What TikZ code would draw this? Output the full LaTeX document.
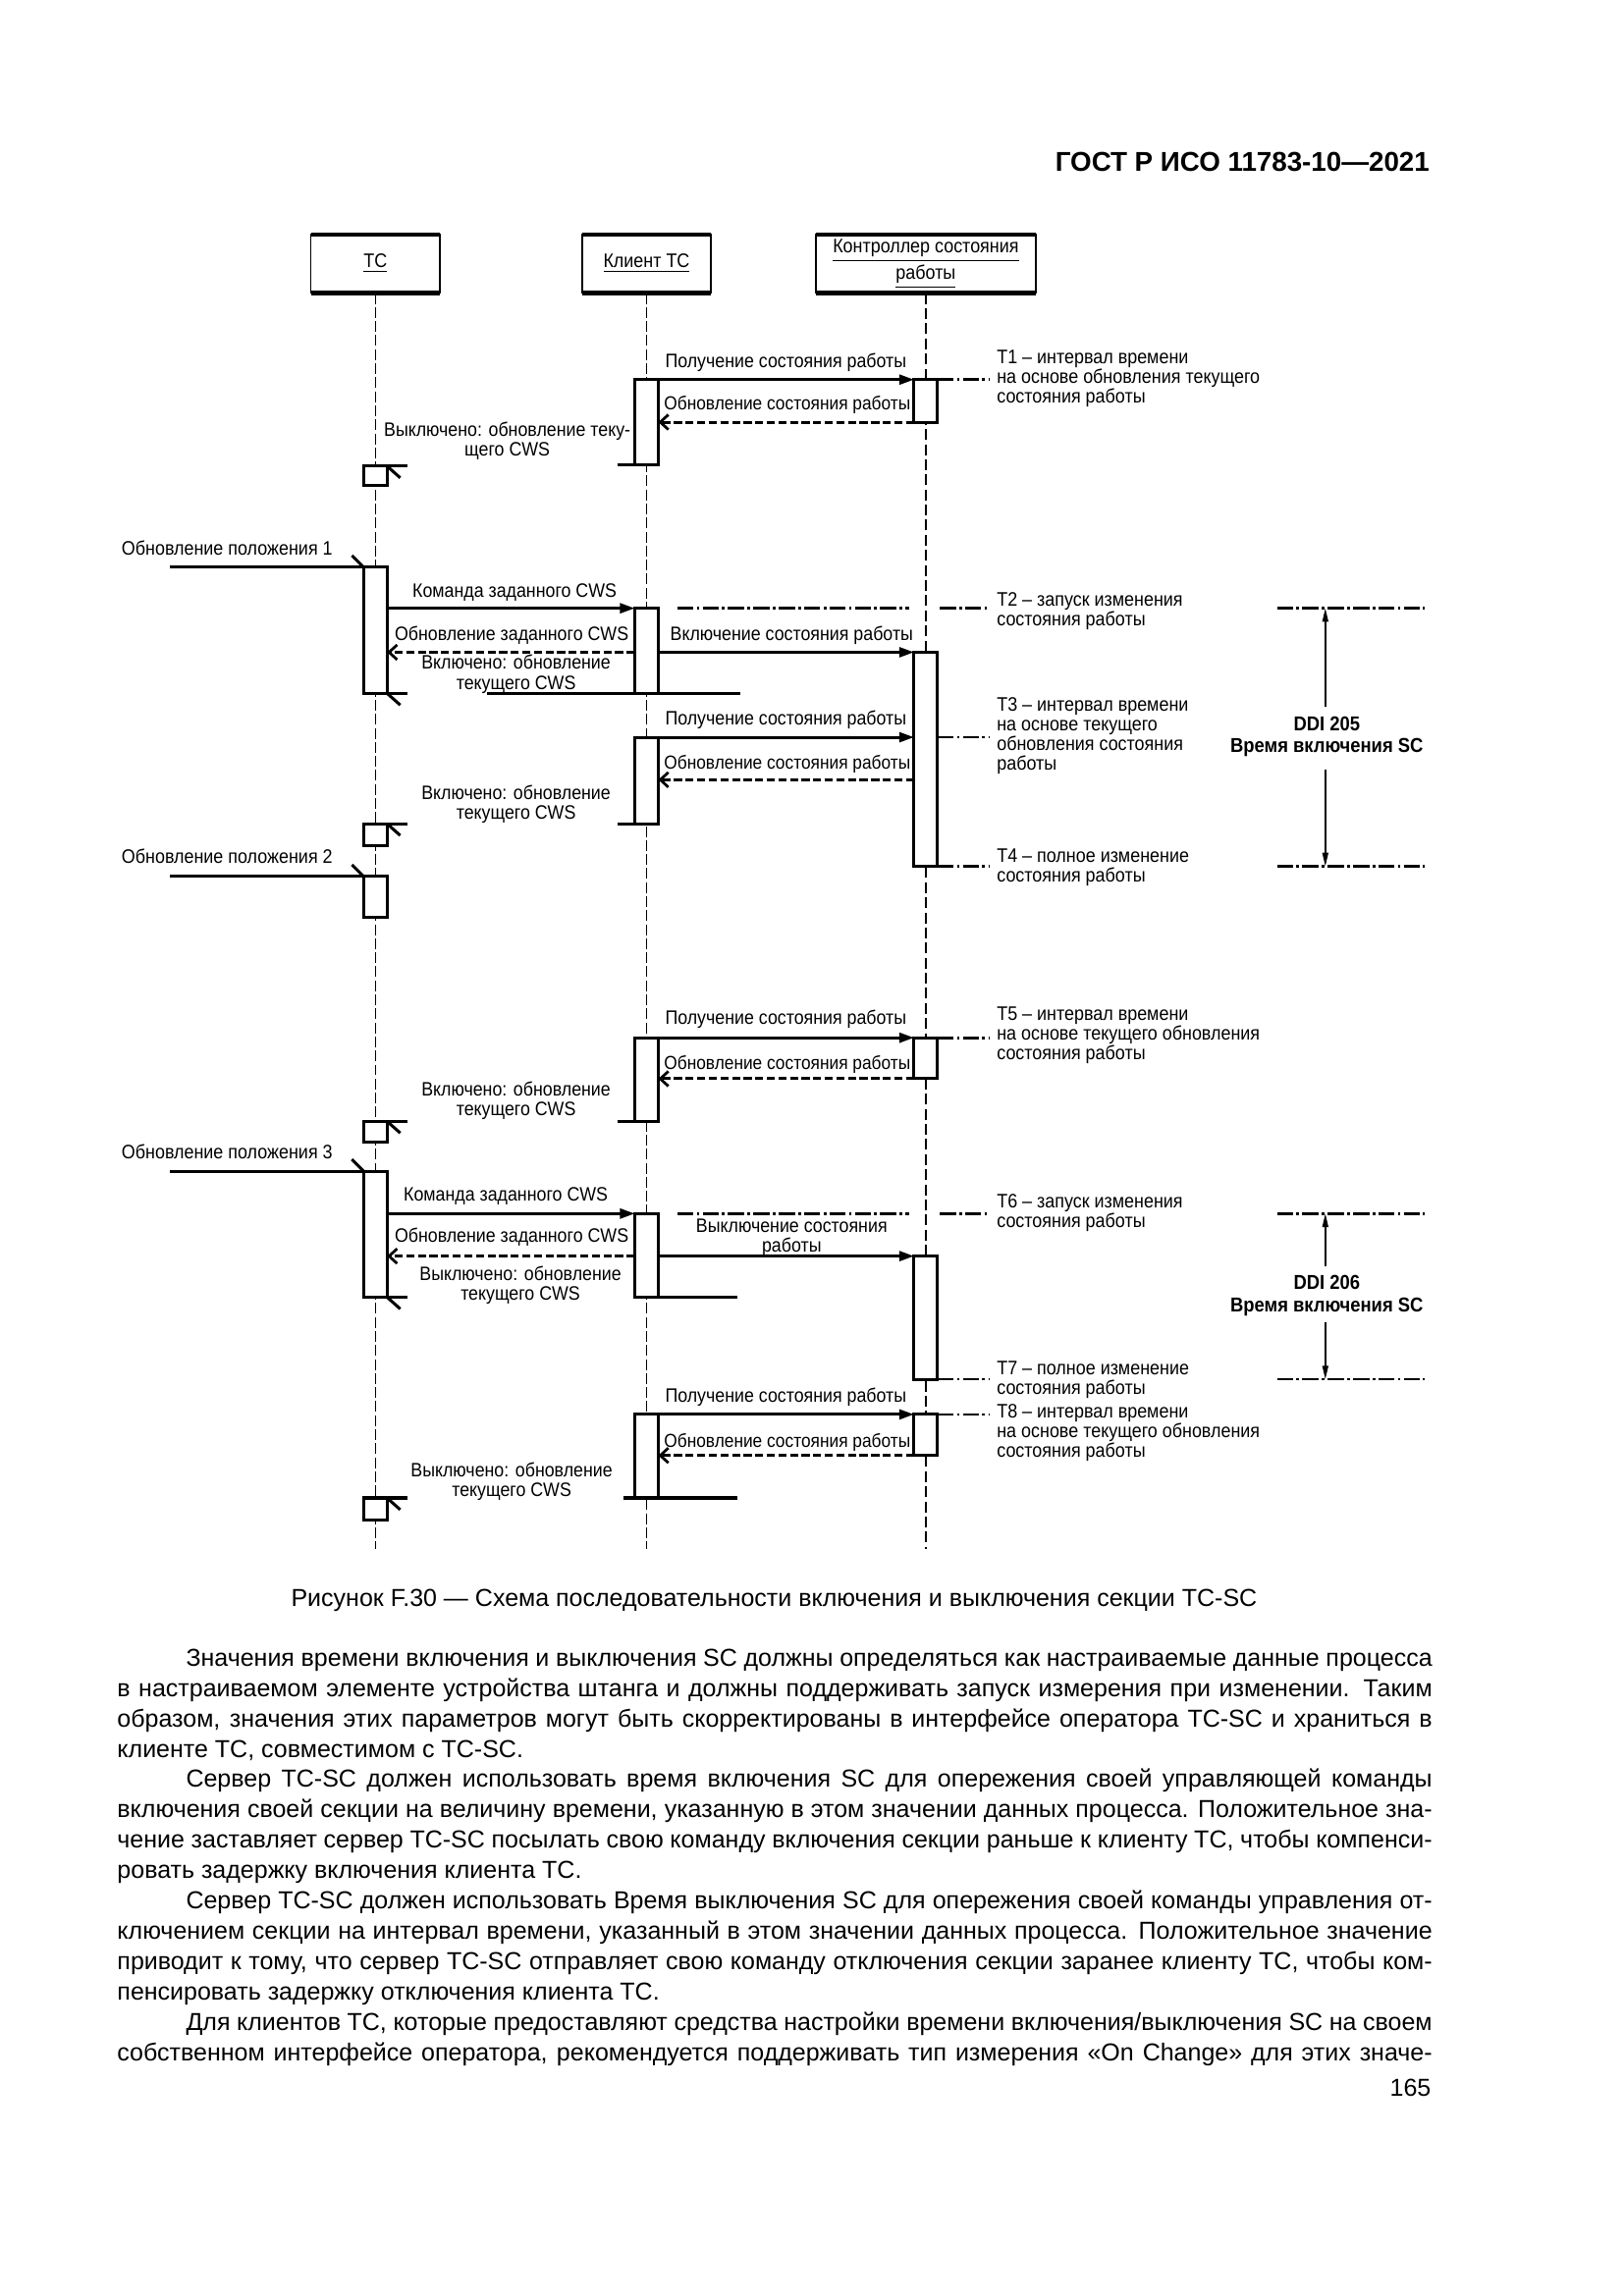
\documentclass[tikz,border=0pt]{standalone}
\usepackage{fontspec}
\setmainfont{Liberation Sans}
\newfontfamily\dfont[FakeStretch=0.9]{Liberation Sans}
\usetikzlibrary{arrows.meta}
\newlength\bw
\setlength\bw{487.4pt}
\newcommand{\actn}[4]{\node[actbox, anchor=north, minimum height={(#4-#3)*0.5434pt}] (#1) at (#2,#3) {};}
\newcommand{\jl}[1]{\makebox[\bw][s]{#1}}
\newcommand{\ijl}[1]{\hspace*{25.5pt}\makebox[\dimexpr\bw-25.5pt\relax][s]{#1}}
\tikzset{
 every node/.style={inner sep=0pt, outer sep=0pt},
 dl/.style={font=\dfont\fontsize{7.2}{7.3}\selectfont, align=center, anchor=north},
 dlr/.style={font=\dfont\fontsize{7.0}{7.3}\selectfont, align=center, anchor=north},
 dll/.style={font=\dfont\fontsize{7.25}{7.3}\selectfont, align=left, anchor=north west},
 headbox/.style={draw, line width=0.6pt, minimum height={40*0.5434pt}, font=\dfont\fontsize{7.25}{8.7}\selectfont, align=center},
 actbox/.style={draw, fill=white, line width=1.1pt, minimum width={16*0.5434pt}},
 life/.style={line width=0.45pt, dash pattern=on 4pt off 1.2pt},
 lifeb/.style={line width=0.9pt, dash pattern=on 4pt off 1.6pt},
 wire/.style={line width=1.1pt},
 msg/.style={line width=1.1pt, -{Triangle[length=5.5pt,width=3.6pt]}},
 ret/.style={line width=1.1pt, dash pattern=on 3pt off 1.3pt, -{Straight Barb[length=3pt,width=5.5pt,line width=1pt]}},
 guide/.style={line width=1pt, dash pattern=on 6pt off 1.2pt on 1pt off 1.2pt},
 ddiarr/.style={line width=0.5pt, -{Triangle[length=5pt,width=2.2pt]}},
 ddi/.style={font=\dfont\bfseries\fontsize{7.45}{8.2}\selectfont, align=center},
 bodytext/.style={font=\fontsize{9.1}{11.25}\selectfont},
}
\begin{document}
\begin{tikzpicture}[x=0.5434pt,y=-0.5434pt]
\fill[white] (0,0) rectangle (1107.7,1566.5);
\path[use as bounding box] (0,0) rectangle (1107.7,1566.5);

% header
\node[anchor=base east, font=\bfseries\fontsize{10.1}{12}\selectfont] (hdr) at (975,117) {ГОСТ Р ИСО 11783-10—2021};

% lifeline heads
\node[headbox, minimum width={88*0.5434pt}] (htc) at (256,180) {\underline{TC}};
\node[headbox, minimum width={88*0.5434pt}] (hcl) at (441,180) {\underline{Клиент TC}};
\node[headbox, minimum width={150*0.5434pt}] (hco) at (631.5,180) {\underline{Контроллер состояния}\\\underline{работы}};
\foreach \n in {htc,hcl,hco}{
  \draw[line width=1.6pt] (\n.north west) -- (\n.north east);
  \draw[line width=1.6pt] (\n.south west) -- (\n.south east);
}

% lifelines
\coordinate (etc) at (256,1057);
\coordinate (ecl) at (441,1057);
\coordinate (eco) at (631.5,1057);
\draw[life] (htc.south) -- (etc);
\draw[life] (hcl.south) -- (ecl);
\draw[lifeb] (hco.south) -- (eco);

% activation boxes: TC
\actn{tcA}{256}{318}{331}
\actn{tcB}{256}{387}{473}
\actn{tcC}{256}{562}{577}
\actn{tcD}{256}{598}{626}
\actn{tcE}{256}{765}{779}
\actn{tcF}{256}{799}{885}
\actn{tcG}{256}{1022}{1037}
% client
\actn{clA}{441}{259}{317}
\actn{clB}{441}{415}{473}
\actn{clC}{441}{503}{562}
\actn{clD}{441}{708}{765}
\actn{clE}{441}{828}{885}
\actn{clF}{441}{965}{1022}
% controller
\actn{coA}{631.5}{259}{288}
\actn{coB}{631.5}{445}{591}
\actn{coC}{631.5}{708}{736}
\actn{coD}{631.5}{857}{941}
\actn{coE}{631.5}{965}{993}

% ---------- block T1
\draw[msg] (clA.north east) -- (coA.north west);
\node[dl] (m1) at (536,241) {Получение состояния работы};
\draw[ret] (coA.south west) -- (clA.east |- coA.south west);
\node[dlr] (m2) at (537,270) {Обновление состояния работы};
\coordinate (t1e) at (675,259);
\draw[guide] (coA.north east) -- (t1e);
\node[dll] (t1) at (680,239) {T1 – интервал времени\\на основе обновления текущего\\состояния работы};
\coordinate (s1) at (421,317);
\draw[wire] (s1) -- (clA.south west);
\draw[wire] (tcA.north east) -- ++(14,0);
\draw[wire] (tcA.north east) -- ++(9,8);
\node[dl] (m3) at (346,288) {Выключено: обновление теку-\\щего CWS};

% ---------- block position 1
\node[dll] (p1t) at (83,369) {Обновление положения 1};
\coordinate (p1) at (116,387);
\draw[wire] (p1) -- (tcB.north west);
\draw[wire] (tcB.north west) -- ++(-8,-8);
\draw[msg] (tcB.east |- clB.north west) -- (clB.north west);
\node[dl] (m4) at (351,398) {Команда заданного CWS};
\coordinate (g2a) at (462,415); \coordinate (g2b) at (620,415);
\coordinate (g2c) at (641,415); \coordinate (g2d) at (675,415);
\draw[guide] (g2a) -- (g2b);
\draw[guide] (g2c) -- (g2d);
\node[dll] (t2) at (680,404) {T2 – запуск изменения\\состояния работы};
\coordinate (d1a) at (871,415); \coordinate (d1b) at (972,415);
\draw[guide] (d1a) -- (d1b);
\draw[msg] (clB.east |- coB.north west) -- (coB.north west);
\node[dl] (m5) at (540,427) {Включение состояния работы};
\draw[ret] (clB.west |- coB.north) -- (tcB.east |- coB.north);
\node[dl] (m6) at (349,427) {Обновление заданного CWS};
\node[dl] (m7) at (352,447) {Включено: обновление\\текущего CWS};
\coordinate (w2a) at (332,473); \coordinate (w2b) at (505,473);
\draw[wire] (w2a) -- (w2b);
\draw[wire] (tcB.south east) -- ++(14,0);
\draw[wire] (tcB.south east) -- ++(9,8);

% ---------- block T3
\draw[msg] (clC.north east) -- (coB.west |- clC.north east);
\node[dl] (m8) at (536,485) {Получение состояния работы};
\coordinate (r3) at (624,532);
\draw[ret] (coB.west |- r3) -- (clC.east |- r3);
\node[dlr] (m9) at (537,515) {Обновление состояния работы};
\coordinate (t3e) at (675,503);
\draw[guide] (coB.east |- clC.north) -- (t3e);
\node[dll] (t3) at (680,476) {T3 – интервал времени\\на основе текущего\\обновления состояния\\работы};
\node[dl] (m10) at (352,536) {Включено: обновление\\текущего CWS};
\coordinate (s3) at (421,562);
\draw[wire] (s3) -- (clC.south west);
\draw[wire] (tcC.north east) -- ++(14,0);
\draw[wire] (tcC.north east) -- ++(9,8);
% T4
\coordinate (t4e) at (675,591);
\draw[guide] (coB.south east) -- (t4e);
\node[dll] (t4) at (680,579) {T4 – полное изменение\\состояния работы};
\coordinate (d2a) at (871,591); \coordinate (d2b) at (972,591);
\draw[guide] (d2a) -- (d2b);
% DDI 205
\node[ddi] (ddi1) at (905,502.5) {DDI 205\\Время включения SC};
\coordinate (a1) at (904,482); \coordinate (a2) at (904,525);
\draw[ddiarr] (a1) -- (a1 |- d1a);
\draw[ddiarr] (a2) -- (a2 |- d2a);

% ---------- position 2
\node[dll] (p2t) at (83,579) {Обновление положения 2};
\coordinate (p2) at (116,598);
\draw[wire] (p2) -- (tcD.north west);
\draw[wire] (tcD.north west) -- ++(-8,-8);

% ---------- block T5
\draw[msg] (clD.north east) -- (coC.north west);
\node[dl] (m11) at (536,689) {Получение состояния работы};
\draw[ret] (coC.south west) -- (clD.east |- coC.south west);
\node[dlr] (m12) at (537,720) {Обновление состояния работы};
\coordinate (t5e) at (675,708);
\draw[guide] (coC.north east) -- (t5e);
\node[dll] (t5) at (680,687) {T5 – интервал времени\\на основе текущего обновления\\состояния работы};
\node[dl] (m13) at (352,738) {Включено: обновление\\текущего CWS};
\coordinate (s5) at (421,765);
\draw[wire] (s5) -- (clD.south west);
\draw[wire] (tcE.north east) -- ++(14,0);
\draw[wire] (tcE.north east) -- ++(9,8);

% ---------- position 3
\node[dll] (p3t) at (83,781) {Обновление положения 3};
\coordinate (p3) at (116,799);
\draw[wire] (p3) -- (tcF.north west);
\draw[wire] (tcF.north west) -- ++(-8,-8);
\draw[msg] (tcF.east |- clE.north west) -- (clE.north west);
\node[dl] (m14) at (345,810) {Команда заданного CWS};
\coordinate (g6a) at (462,828); \coordinate (g6b) at (620,828);
\coordinate (g6c) at (641,828); \coordinate (g6d) at (675,828);
\draw[guide] (g6a) -- (g6b);
\draw[guide] (g6c) -- (g6d);
\node[dll] (t6) at (680,815) {T6 – запуск изменения\\состояния работы};
\coordinate (d3a) at (871,828); \coordinate (d3b) at (972,828);
\draw[guide] (d3a) -- (d3b);
\draw[msg] (clE.east |- coD.north west) -- (coD.north west);
\node[dl] (m15) at (540,832) {Выключение состояния\\работы};
\draw[ret] (clE.west |- coD.north) -- (tcF.east |- coD.north);
\node[dl] (m16) at (349,838) {Обновление заданного CWS};
\node[dl] (m17) at (355,864) {Выключено: обновление\\текущего CWS};
\coordinate (w6) at (503,885);
\draw[wire] (clE.south east) -- (w6);
\draw[wire] (tcF.south east) -- ++(14,0);
\draw[wire] (tcF.south east) -- ++(9,8);
% T7
\coordinate (t7e) at (675,941);
\draw[guide] (coD.south east) -- (t7e);
\node[dll] (t7) at (680,929) {T7 – полное изменение\\состояния работы};
\coordinate (d4a) at (871,941); \coordinate (d4b) at (972,941);
\draw[guide] (d4a) -- (d4b);
\node[ddi] (ddi2) at (905,884) {DDI 206\\Время включения SC};
\coordinate (a3) at (904,864); \coordinate (a4) at (904,902);
\draw[ddiarr] (a3) -- (a3 |- d3a);
\draw[ddiarr] (a4) -- (a4 |- d4a);

% ---------- block T8
\draw[msg] (clF.north east) -- (coE.north west);
\node[dl] (m18) at (536,947) {Получение состояния работы};
\draw[ret] (coE.south west) -- (clF.east |- coE.south west);
\node[dlr] (m19) at (537,978) {Обновление состояния работы};
\coordinate (t8e) at (675,965);
\draw[guide] (coE.north east) -- (t8e);
\node[dll] (t8) at (680,958) {T8 – интервал времени\\на основе текущего обновления\\состояния работы};
\node[dl] (m20) at (349,998) {Выключено: обновление\\текущего CWS};
\coordinate (w8a) at (425,1022); \coordinate (w8b) at (503,1022);
\draw[wire] (w8a) -- (w8b);
\draw[wire] (tcG.north east) -- ++(14,0);
\draw[wire] (tcG.north east) -- ++(9,8);

% caption
\node[bodytext, anchor=north] (cap) at (528,1084) {Рисунок F.30 — Схема последовательности включения и выключения секции TC-SC};

% body text
\node[bodytext, anchor=north west, align=left] (body) at (80,1125) {%
\ijl{Значения времени включения и выключения SC должны определяться как настраиваемые данные процесса}\\
\jl{в настраиваемом элементе устройства штанга и должны поддерживать запуск измерения при изменении. Таким}\\
\jl{образом, значения этих параметров могут быть скорректированы в интерфейсе оператора TC-SC и храниться в}\\
клиенте TC, совместимом с TC-SC.\\
\ijl{Сервер TC-SC должен использовать время включения SC для опережения своей управляющей команды}\\
\jl{включения своей секции на величину времени, указанную в этом значении данных процесса. Положительное зна-}\\
\jl{чение заставляет сервер TC-SC посылать свою команду включения секции раньше к клиенту TC, чтобы компенси-}\\
ровать задержку включения клиента TC.\\
\ijl{Сервер TC-SC должен использовать Время выключения SC для опережения своей команды управления от-}\\
\jl{ключением секции на интервал времени, указанный в этом значении данных процесса. Положительное значение}\\
\jl{приводит к тому, что сервер TC-SC отправляет свою команду отключения секции заранее клиенту TC, чтобы ком-}\\
пенсировать задержку отключения клиента TC.\\
\ijl{Для клиентов TC, которые предоставляют средства настройки времени включения/выключения SC на своем}\\
\jl{собственном интерфейсе оператора, рекомендуется поддерживать тип измерения «On Change» для этих значе-}};

% page number
\node[bodytext, anchor=base east] (pg) at (976,1430) {165};
\end{tikzpicture}
\end{document}
